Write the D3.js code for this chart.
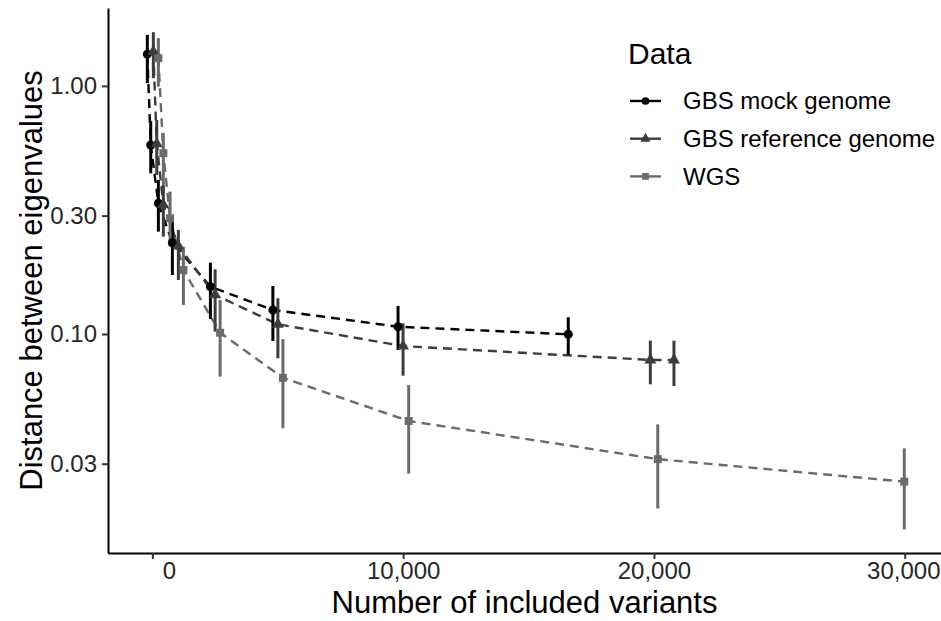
<!DOCTYPE html>
<html>
<head>
<meta charset="utf-8">
<script src="https://cdn.jsdelivr.net/npm/d3@7"></script>
<style>
  html, body { margin: 0; padding: 0; background: #ffffff; }
  svg { display: block; font-family: "Liberation Sans", Arial, sans-serif; }
</style>
</head>
<body>
<svg id="chart" width="941" height="621"></svg>
<script>
// Series names, colours and shapes
const seriesNames = ["GBS mock genome", "GBS reference genome", "WGS"];
const seriesColors = ["#000000", "#3d3d3d", "#6b6b6b"];
const seriesShapes = ["circle", "triangle", "square"];

// GBS mock genome: variants, mean distance, lower and upper error
const mockX = [-200, -64, 240, 798, 2315, 4806, 9796, 16583];
const mockY = [1.342, 0.578, 0.3365, 0.2334, 0.1551, 0.1250, 0.1070, 0.0997];
const mockLo = [1.025, 0.4446, 0.2585, 0.1729, 0.1149, 0.0937, 0.0862, 0.0823];
const mockHi = [1.605, 0.7226, 0.4178, 0.2836, 0.1939, 0.1561, 0.1297, 0.1168];

// GBS reference genome
const refX = [40, 176, 439, 1038, 2503, 5006, 9996, 19856, 20798];
const refY = [1.375, 0.5836, 0.3313, 0.2263, 0.1437, 0.1094, 0.0894, 0.0786, 0.0786];
const refLo = [1.074, 0.4377, 0.2468, 0.1651, 0.1022, 0.0798, 0.0679, 0.0627, 0.0617];
const refHi = [1.646, 0.7293, 0.3989, 0.2626, 0.1824, 0.1393, 0.1104, 0.0940, 0.0940];

// WGS
const wgsX = [240, 439, 707, 1238, 2703, 5206, 10220, 20152, 29980];
const wgsY = [1.293, 0.5355, 0.2927, 0.1812, 0.1012, 0.0666, 0.0446, 0.0313, 0.0254];
const wgsLo = [0.9935, 0.3989, 0.2249, 0.1309, 0.0673, 0.0417, 0.0274, 0.0198, 0.0163];
const wgsHi = [1.557, 0.6463, 0.3748, 0.2249, 0.1371, 0.0954, 0.0623, 0.0432, 0.0346];

// Axis ticks
const xTickValues = [0, 10000, 20000, 30000];
const xTickLabels = ["     0", "10,000", "20,000", "30,000"];
const yTickValues = [1.00, 0.30, 0.10, 0.03];
const yTickLabels = ["1.00", "0.30", "0.10", "0.03"];

const xTitle = "Number of included variants";
const yTitle = "Distance between eigenvalues";
const legendTitle = "Data";

const series = [
  { x: mockX, y: mockY, lo: mockLo, hi: mockHi },
  { x: refX, y: refY, lo: refLo, hi: refHi },
  { x: wgsX, y: wgsY, lo: wgsLo, hi: wgsHi }
].map((s, i) => ({
  name: seriesNames[i], color: seriesColors[i], shape: seriesShapes[i],
  points: s.x.map((v, j) => ({ x: v, y: s.y[j], lo: s.lo[j], hi: s.hi[j] }))
}));

const svg = d3.select("#chart");
const panel = { left: 108, right: 941, top: 8, bottom: 553 };

const x = d3.scaleLinear().domain([-1768, 31445]).range([panel.left, panel.right]);
const y = d3.scaleLog().domain([0.0131, 2.06]).range([panel.bottom, panel.top]);

// Axes
const xAxis = d3.axisBottom(x).tickValues(xTickValues)
  .tickFormat((d, i) => xTickLabels[i]).tickSizeInner(6).tickSizeOuter(0).tickPadding(3);
const yAxis = d3.axisLeft(y).tickValues(yTickValues)
  .tickFormat((d, i) => yTickLabels[i]).tickSizeInner(6).tickSizeOuter(0).tickPadding(5);

const gx = svg.append("g").attr("transform", `translate(0,${panel.bottom})`).call(xAxis);
const gy = svg.append("g").attr("transform", `translate(${panel.left},0)`).call(yAxis);

[gx, gy].forEach(g => {
  g.select(".domain").attr("stroke", "#000").attr("stroke-width", 2);
  g.selectAll(".tick line").attr("stroke", "#333").attr("stroke-width", 2);
  g.selectAll(".tick text").attr("fill", "#262626").attr("font-size", 24)
    .attr("font-family", "Liberation Sans, Arial, sans-serif")
    .style("white-space", "pre");
});
gx.selectAll(".tick text").attr("xml:space", "preserve");
// keep the last x label inside the frame
gx.selectAll(".tick text").filter((d, i) => i === xTickValues.length - 1)
  .attr("text-anchor", "end").attr("x", 940 - x(xTickValues[xTickValues.length - 1]));

// Axis titles
svg.append("text")
  .attr("x", (panel.left + panel.right) / 2).attr("y", 613)
  .attr("text-anchor", "middle").attr("font-size", 31).attr("fill", "#000")
  .text(xTitle);
svg.append("text")
  .attr("transform", `translate(42,${(panel.top + panel.bottom) / 2}) rotate(-90)`)
  .attr("text-anchor", "middle").attr("font-size", 31).attr("fill", "#000")
  .text(yTitle);

// Dashed trend lines
const line = d3.line().x(d => x(d.x)).y(d => y(d.y));
svg.append("g").selectAll("path").data(series).join("path")
  .attr("d", s => line(s.points))
  .attr("fill", "none").attr("stroke", s => s.color)
  .attr("stroke-width", 2.4).attr("stroke-dasharray", "9,6");

// Error bars
series.forEach(s => {
  svg.append("g").selectAll("line").data(s.points).join("line")
    .attr("x1", d => x(d.x)).attr("x2", d => x(d.x))
    .attr("y1", d => y(d.lo)).attr("y2", d => y(d.hi))
    .attr("stroke", s.color).attr("stroke-width", 3);
});

// Point symbols
function symbolPath(shape) {
  if (shape === "circle") return d3.symbol(d3.symbolCircle, 64)();
  if (shape === "triangle") return d3.symbol(d3.symbolTriangle, 62)();
  return d3.symbol(d3.symbolSquare, 64)();
}
series.forEach(s => {
  svg.append("g").selectAll("path").data(s.points).join("path")
    .attr("d", symbolPath(s.shape))
    .attr("transform", d => `translate(${x(d.x)},${y(d.y)})`)
    .attr("fill", s.color);
});

// Legend
const legend = svg.append("g").attr("transform", "translate(628,0)");
legend.append("text").attr("x", 0).attr("y", 64)
  .attr("font-size", 30).attr("fill", "#000").text(legendTitle);
const items = legend.selectAll("g.item").data(series).join("g")
  .attr("class", "item")
  .attr("transform", (d, i) => `translate(0,${101 + i * 37.7})`);
items.append("line").attr("x1", 2).attr("x2", 33).attr("y1", 0).attr("y2", 0)
  .attr("stroke", d => d.color).attr("stroke-width", 2.4);
items.append("path").attr("d", d => symbolPath(d.shape))
  .attr("transform", "translate(17.5,0) scale(0.85)").attr("fill", d => d.color);
items.append("text").attr("x", 55).attr("y", 0).attr("dy", "0.35em")
  .attr("font-size", 24).attr("fill", "#000").text(d => d.name);
</script>
</body>
</html>
